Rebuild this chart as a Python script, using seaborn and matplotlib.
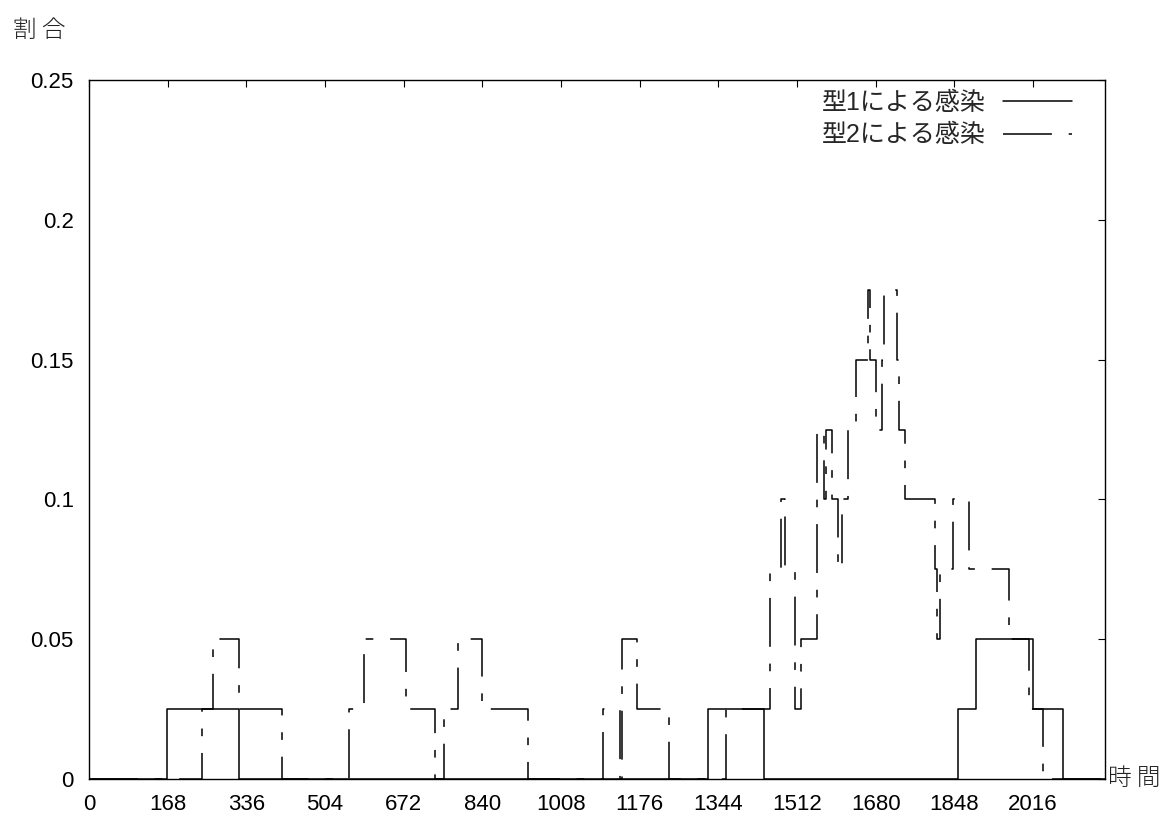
import matplotlib
matplotlib.use('Agg')
import matplotlib.pyplot as plt
import seaborn as sns
import numpy as np

# step data (time in hours, share of hosts)
t_type1 = [0, 166, 320, 1322, 1441, 1856, 1894, 2016, 2080, 2170]
v_type1 = [0, 0.025, 0, 0.025, 0, 0.025, 0.05, 0.025, 0, 0]

t_type2 = [0, 241, 264, 320, 412, 555, 587, 677, 739, 758, 788, 839, 937,
           1098, 1134, 1138, 1170, 1238, 1360, 1454, 1478, 1486, 1508, 1520,
           1555, 1570, 1574, 1587, 1600, 1608, 1621, 1638, 1664, 1668, 1680,
           1694, 1698, 1726, 1731, 1742, 1807, 1811, 1818, 1845, 1879, 1965,
           2008, 2037, 2170]
v_type2 = [0, 0.025, 0.05, 0.025, 0, 0.025, 0.05, 0.025, 0, 0.025, 0.05, 0.025, 0,
           0.025, 0, 0.05, 0.025, 0, 0.025, 0.075, 0.1, 0.075, 0.025, 0.05,
           0.125, 0.1, 0.125, 0.1, 0.075, 0.1, 0.125, 0.15, 0.175, 0.15, 0.125,
           0.15, 0.175, 0.15, 0.125, 0.1, 0.075, 0.05, 0.075, 0.1, 0.075, 0.05,
           0.025, 0, 0]

label1 = '型1による感染'
label2 = '型2による感染'
xticks = list(range(0, 2017, 168))
yticks = [0, 0.05, 0.1, 0.15, 0.2, 0.25]
ytick_labels = ['0', '0.05', '0.1', '0.15', '0.2', '0.25']

sns.set_style('white')
plt.rcParams['font.family'] = ['Liberation Sans', 'Noto Sans CJK JP', 'DejaVu Sans']

fig = plt.figure(figsize=(11.68, 8.26), dpi=100)
ax = fig.add_axes([89 / 1168, 1 - 779 / 826, (1105 - 89) / 1168, (779 - 80) / 826])

sns.lineplot(x=t_type1, y=v_type1, ax=ax, color='black', linewidth=1.1,
             drawstyle='steps-post', estimator=None, label=label1)
sns.lineplot(x=t_type2, y=v_type2, ax=ax, color='black', linewidth=1.1,
             drawstyle='steps-post', estimator=None, label=label2,
             linestyle=(0, (32, 11, 5, 11)))

ax.set_xlim(0, 2170)
ax.set_ylim(0, 0.25)
ax.set_xticks(xticks)
ax.set_xticklabels([str(x) for x in xticks], fontsize=16)
ax.set_yticks(yticks)
ax.set_yticklabels(ytick_labels, fontsize=16)
ax.tick_params(direction='in', top=True, right=True, length=5, width=0.8,
               color='black', labelcolor='black')
ax.tick_params(axis='y', pad=11)
ax.tick_params(axis='x', pad=11)
for s in ax.spines.values():
    s.set_color('black')
    s.set_linewidth(1.0)
ax.set_xlabel('')
ax.set_ylabel('')

leg = ax.legend(loc='upper right', bbox_to_anchor=(1 - 33 / 1016, 1 - 11 / 699),
                frameon=False, markerfirst=False, fontsize=18, handlelength=2.75,
                handletextpad=0.7, borderpad=0, borderaxespad=0, labelspacing=0.33)

fig.text(13 / 1168, 1 - 30 / 826, '割 合', fontsize=17, ha='left', va='center',
         family=['Noto Sans CJK JP'], color='#222222', fontweight='light')
fig.text(1108 / 1168, 1 - 778 / 826, '時 間', fontsize=17, ha='left', va='center',
         family=['Noto Sans CJK JP'], color='#222222', fontweight='light')

fig.savefig('out.png', dpi=100)
